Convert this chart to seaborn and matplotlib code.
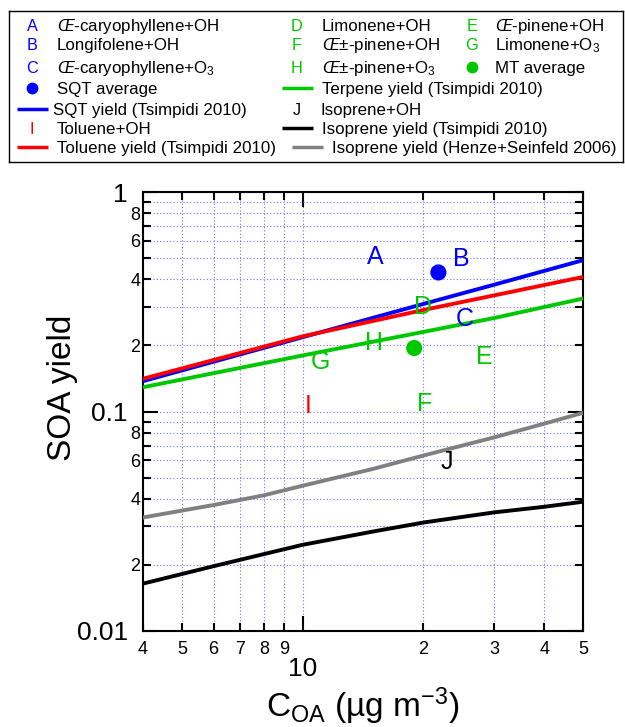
import matplotlib
matplotlib.use("Agg")
import matplotlib.pyplot as plt
import seaborn as sns
from matplotlib.ticker import FixedLocator, FixedFormatter

coa = [4, 10, 20, 30, 50]
sqt_yield = [0.1375, 0.218, 0.309, 0.378, 0.489]
toluene_yield = [0.141, 0.220, 0.290, 0.338, 0.410]
terpene_yield = [0.129, 0.180, 0.2305, 0.2666, 0.327]

# isoprene curves bend more, so read at more points
coa_iso = [4, 6, 8, 10, 15, 20, 30, 40, 50]
isoprene_tsimpidi = [0.01644, 0.01974, 0.0224, 0.0247, 0.0284, 0.0312, 0.0347, 0.0368, 0.0388]
isoprene_henze = [0.0329, 0.0375, 0.0415, 0.0459, 0.0548, 0.0630, 0.0762, 0.0880, 0.0986]

# chamber experiments (letters)
exp_letters = ["A", "B", "C", "D", "E", "F", "G", "H", "I", "J"]
exp_coa = [15.2, 24.8, 25.4, 19.9, 28.3, 20.2, 11.1, 15.1, 10.3, 22.9]
exp_yield = [0.515, 0.506, 0.268, 0.305, 0.180, 0.110, 0.171, 0.209, 0.1076, 0.0602]
exp_group = ["SQT", "SQT", "SQT", "MT", "MT", "MT", "MT", "MT", "Toluene", "Isoprene"]

# averages
avg_names = ["SQT average", "MT average"]
avg_coa = [21.8, 18.97]
avg_yield = [0.43, 0.1946]

BLUE = "#0000ff"
GREEN = "#00c800"
RED = "#ff0000"
GRAY = "#808080"
group_colors = {"SQT": BLUE, "MT": GREEN, "Toluene": RED, "Isoprene": "black"}

sns.set_style("ticks")
plt.rcParams["font.family"] = ["Liberation Sans", "DejaVu Sans"]
plt.rcParams["mathtext.fontset"] = "custom"
plt.rcParams["mathtext.rm"] = "Liberation Sans"
plt.rcParams["mathtext.it"] = "Liberation Sans:italic"
plt.rcParams["text.color"] = "black"
plt.rcParams["axes.labelcolor"] = "black"
plt.rcParams["xtick.color"] = "black"
plt.rcParams["ytick.color"] = "black"

fig = plt.figure(figsize=(6.25, 7.27), dpi=100)
ax = fig.add_axes([143 / 625, 1 - 631 / 727, 440 / 625, 439 / 727])
ax.set_xscale("log")
ax.set_yscale("log")

# curves
sns.lineplot(x=coa, y=sqt_yield, color=BLUE, lw=2.8, ax=ax, zorder=3)
sns.lineplot(x=coa, y=toluene_yield, color=RED, lw=2.8, ax=ax, zorder=3)
sns.lineplot(x=coa, y=terpene_yield, color=GREEN, lw=2.8, ax=ax, zorder=3)
sns.lineplot(x=coa_iso, y=isoprene_henze, color=GRAY, lw=2.8, ax=ax, zorder=3)
sns.lineplot(x=coa_iso, y=isoprene_tsimpidi, color="black", lw=2.8, ax=ax, zorder=3)

# averages
sns.scatterplot(x=avg_coa, y=avg_yield, hue=avg_names, palette=[BLUE, GREEN],
                s=135, linewidth=0, legend=False, ax=ax, zorder=4)

# experiment letters
for lab, xv, yv, grp in zip(exp_letters, exp_coa, exp_yield, exp_group):
    ax.annotate(lab, (xv, yv), xytext=(0, -6.4), textcoords="offset points",
                ha="center", va="baseline", fontsize=18, color=group_colors[grp], zorder=4)

ax.set_xlim(4, 50)
ax.set_ylim(0.01, 1)

ax.xaxis.set_major_locator(FixedLocator([10]))
ax.xaxis.set_major_formatter(FixedFormatter(["10"]))
ax.xaxis.set_minor_locator(FixedLocator([4, 5, 6, 7, 8, 9, 20, 30, 40, 50]))
ax.xaxis.set_minor_formatter(FixedFormatter(["4", "5", "6", "7", "8", "9", "2", "3", "4", "5"]))
ax.yaxis.set_major_locator(FixedLocator([0.01, 0.1, 1]))
ax.yaxis.set_major_formatter(FixedFormatter(["0.01", "0.1", "1"]))
ax.yaxis.set_minor_locator(FixedLocator([0.02, 0.03, 0.04, 0.05, 0.06, 0.07, 0.08, 0.09,
                                         0.2, 0.3, 0.4, 0.5, 0.6, 0.7, 0.8, 0.9]))
ax.yaxis.set_minor_formatter(FixedFormatter(["2", "", "4", "", "6", "", "8", ""] * 2))

ax.tick_params(which="both", direction="in", top=True, right=True, color="black",
               labelcolor="black", width=1.5)
ax.tick_params(which="major", length=11)
ax.tick_params(which="minor", length=6)
ax.tick_params(axis="x", which="major", labelsize=19, pad=19)
ax.tick_params(axis="x", which="minor", labelsize=13, pad=7)
ax.tick_params(axis="y", which="major", labelsize=19, pad=11)
ax.tick_params(axis="y", which="minor", labelsize=13, pad=2)
for sp in ax.spines.values():
    sp.set_linewidth(1.5)
    sp.set_color("black")

ax.grid(which="both", color="#7070ff", linestyle=(0, (1, 2)), linewidth=0.8)
ax.set_axisbelow(True)

ax.set_ylabel("SOA yield", fontsize=24, color="black")
ax.yaxis.set_label_coords(-0.148, 0.555)
ax.set_xlabel(r"C$_\mathrm{OA}$ (µg m$^{-3}$)", fontsize=24, color="black")
ax.xaxis.set_label_coords(0.5, -0.125)

# legend box, laid out in pixel units
lg = fig.add_axes([9 / 625, 1 - 161.7 / 727, 613.7 / 625, 151 / 727])
lg.set_xlim(9, 622.7)
lg.set_ylim(161.7, 10.7)
lg.set_xticks([])
lg.set_yticks([])
for sp in lg.spines.values():
    sp.set_linewidth(1.0)
    sp.set_color("black")

rows = [31, 50, 72.7, 94.3, 115, 134, 153.3]
fs = 12.2

def leg_letter(x, row, letter, color):
    lg.text(x, rows[row], letter, ha="center", va="baseline", fontsize=fs - 0.5, color=color)

def leg_text(x, row, text):
    lg.text(x, rows[row], text, ha="left", va="baseline", fontsize=fs, color="black")

def leg_line(x0, x1, row, color):
    lg.plot([x0, x1], [rows[row] - 6, rows[row] - 6], color=color, lw=2.5, solid_capstyle="butt")

def leg_dot(x, row, color):
    lg.plot([x], [rows[row] - 6], "o", color=color, ms=7.5)

beta = r"$\mathit{Œ}$"
leg_letter(32, 0, "A", BLUE); leg_text(56.7, 0, beta + "-caryophyllene+OH")
leg_letter(32, 1, "B", BLUE); leg_text(56.7, 1, "Longifolene+OH")
leg_letter(32, 2, "C", BLUE); leg_text(56.7, 2, beta + "-caryophyllene+O$_3$")
leg_dot(31.7, 3, BLUE); leg_text(56.7, 3, "SQT average")
leg_line(16.7, 48.3, 4, BLUE); leg_text(53.3, 4, "SQT yield (Tsimpidi 2010)")
leg_letter(32, 5, "I", RED); leg_text(56.7, 5, "Toluene+OH")
leg_line(16.7, 48.3, 6, RED); leg_text(56.7, 6, "Toluene yield (Tsimpidi 2010)")

leg_letter(296.7, 0, "D", GREEN); leg_text(321.7, 0, "Limonene+OH")
leg_letter(296.7, 1, "F", GREEN); leg_text(321.7, 1, beta + "±-pinene+OH")
leg_letter(296.7, 2, "H", GREEN); leg_text(321.7, 2, beta + "±-pinene+O$_3$")
leg_line(281.7, 313.3, 3, GREEN); leg_text(322, 3, "Terpene yield (Tsimpidi 2010)")
leg_letter(296.7, 4, "J", "black"); leg_text(320, 4, "Isoprene+OH")
leg_line(281.7, 313.3, 5, "black"); leg_text(322, 5, "Isoprene yield (Tsimpidi 2010)")
leg_line(291.7, 323.3, 6, GRAY); leg_text(332.3, 6, "Isoprene yield (Henze+Seinfeld 2006)")

leg_letter(471.7, 0, "E", GREEN); leg_text(495, 0, beta + "-pinene+OH")
leg_letter(471.7, 1, "G", GREEN); leg_text(495, 1, "Limonene+O$_3$")
leg_dot(471.7, 2, GREEN); leg_text(495, 2, "MT average")

fig.savefig("out.png", dpi=100, facecolor="white")
